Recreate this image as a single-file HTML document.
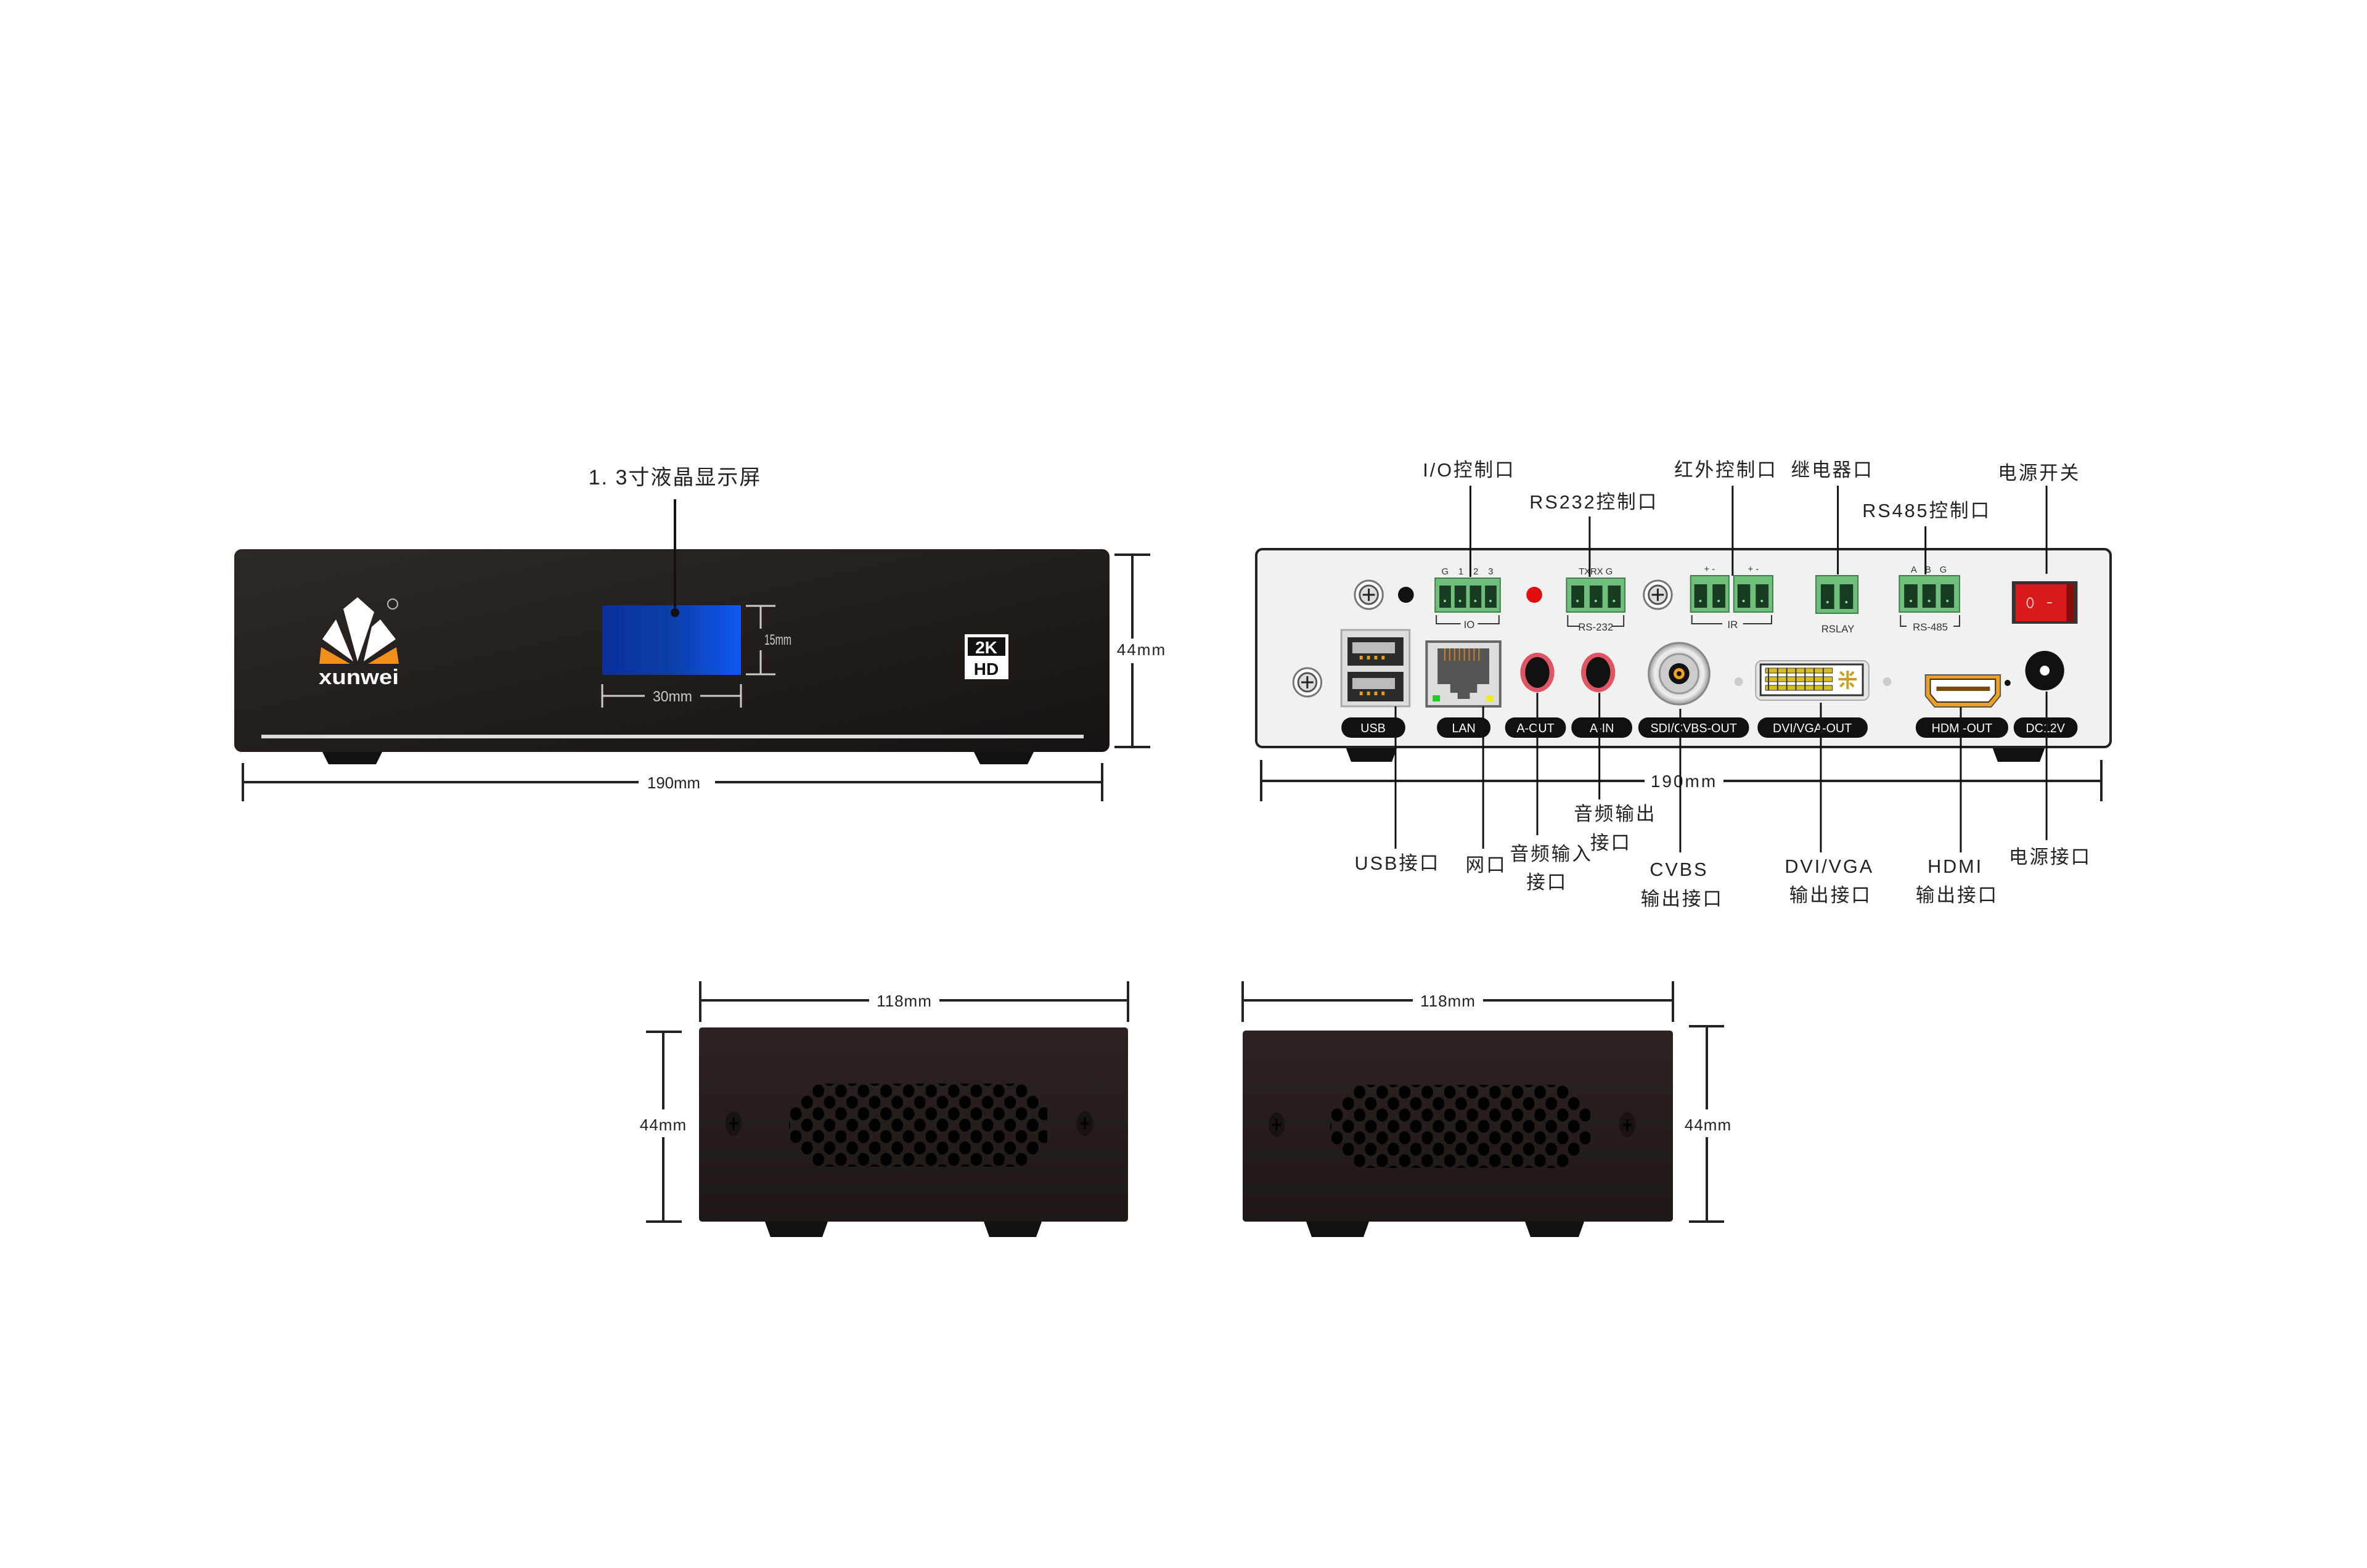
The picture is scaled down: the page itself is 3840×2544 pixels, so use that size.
<!DOCTYPE html>
<html><head><meta charset="utf-8">
<style>
html,body{margin:0;padding:0;background:#fff;}
svg{display:block;}
text{font-family:"Liberation Sans","Noto Sans CJK SC",sans-serif;}
</style></head>
<body>
<svg width="3840" height="2544" viewBox="0 0 3840 2544" xmlns="http://www.w3.org/2000/svg">
<defs>
<linearGradient id="fp" x1="0" y1="0" x2="1" y2="1">
<stop offset="0" stop-color="#2e2826"/><stop offset="0.6" stop-color="#211b19"/><stop offset="1" stop-color="#171211"/>
</linearGradient>
<linearGradient id="lcd" x1="0" y1="0" x2="1" y2="0">
<stop offset="0" stop-color="#0a2f9c"/><stop offset="0.5" stop-color="#0c3ea8"/><stop offset="1" stop-color="#1058f2"/>
</linearGradient>
<linearGradient id="sp" x1="0" y1="0" x2="0" y2="1">
<stop offset="0" stop-color="#2a2321"/><stop offset="1" stop-color="#1e1816"/>
</linearGradient>
<radialGradient id="bnc" cx="0.5" cy="0.5" r="0.5">
<stop offset="0" stop-color="#fff"/><stop offset="0.5" stop-color="#ccc"/><stop offset="0.8" stop-color="#eee"/><stop offset="1" stop-color="#999"/>
</radialGradient>
<pattern id="holes" x="1282" y="1751.5" width="36.6" height="37" patternUnits="userSpaceOnUse">
<ellipse cx="9" cy="18.5" rx="9.5" ry="10.5" fill="#000"/>
<ellipse cx="27.3" cy="0" rx="9.5" ry="10.5" fill="#000"/>
<ellipse cx="27.3" cy="37" rx="9.5" ry="10.5" fill="#000"/>
</pattern>
<pattern id="holes2" x="2160" y="1753.5" width="36.6" height="37" patternUnits="userSpaceOnUse">
<ellipse cx="9" cy="18.5" rx="9.5" ry="10.5" fill="#000"/>
<ellipse cx="27.3" cy="0" rx="9.5" ry="10.5" fill="#000"/>
<ellipse cx="27.3" cy="37" rx="9.5" ry="10.5" fill="#000"/>
</pattern>
</defs>

<!-- ============ FRONT PANEL ============ -->
<text x="1095" y="786" font-size="34" text-anchor="middle" fill="#222" letter-spacing="2">1. 3寸液晶显示屏</text>
<polygon points="523,1220 620,1220 610,1240 533,1240" fill="#111"/>
<polygon points="1580,1220 1677,1220 1667,1240 1590,1240" fill="#111"/>
<rect x="380" y="891" width="1420" height="329" rx="12" fill="url(#fp)"/>
<rect x="424" y="1192" width="1334" height="6" fill="#ddd"/>
<rect x="977" y="982" width="225" height="113" fill="url(#lcd)"/>
<line x1="1095" y1="810" x2="1095" y2="992" stroke="#111" stroke-width="4"/>
<circle cx="1095" cy="994" r="7" fill="#111"/>
<g stroke="#ccc" stroke-width="3">
<line x1="1210" y1="983" x2="1258" y2="983"/><line x1="1210" y1="1094" x2="1258" y2="1094"/>
<line x1="1234" y1="983" x2="1234" y2="1020"/><line x1="1234" y1="1055" x2="1234" y2="1094"/>
<line x1="977" y1="1110" x2="977" y2="1148"/><line x1="1202" y1="1110" x2="1202" y2="1148"/>
<line x1="977" y1="1129" x2="1046" y2="1129"/><line x1="1136" y1="1129" x2="1202" y2="1129"/>
</g>
<text x="1240" y="1046" font-size="24" fill="#ccc" textLength="44" lengthAdjust="spacingAndGlyphs">15mm</text>
<text x="1091" y="1138" font-size="24" fill="#ccc" text-anchor="middle" textLength="64" lengthAdjust="spacingAndGlyphs">30mm</text>
<polygon points="521,1050 518,1077 568,1077" fill="#f0901a"/>
<polygon points="643,1050 647,1077 597,1077" fill="#f0901a"/>
<polygon points="557,988 580,969 607,993 580,1073" fill="#fff"/>
<polygon points="523,1037 545,1005 573,1073" fill="#fff"/>
<polygon points="603,1017 617,1005 642,1037 590,1073" fill="#fff"/>
<circle cx="637" cy="980" r="8" fill="none" stroke="#bbb" stroke-width="2"/>
<text x="582" y="1110" font-size="34" font-weight="bold" fill="#fff" text-anchor="middle" textLength="130" lengthAdjust="spacingAndGlyphs">xunwei</text>
<rect x="1565" y="1029" width="71" height="73" fill="#fff"/>
<rect x="1570" y="1034" width="61" height="30" fill="#111"/>
<text x="1600" y="1060" font-size="28" font-weight="bold" fill="#fff" text-anchor="middle">2K</text>
<text x="1600" y="1095" font-size="28" font-weight="bold" fill="#111" text-anchor="middle">HD</text>
<g stroke="#222" stroke-width="4">
<line x1="1808" y1="900" x2="1866" y2="900"/><line x1="1808" y1="1212" x2="1866" y2="1212"/>
<line x1="1837" y1="900" x2="1837" y2="1036"/><line x1="1837" y1="1076" x2="1837" y2="1212"/>
<line x1="394" y1="1238" x2="394" y2="1300"/><line x1="1788" y1="1238" x2="1788" y2="1300"/>
<line x1="394" y1="1269" x2="1036" y2="1269"/><line x1="1160" y1="1269" x2="1788" y2="1269"/>
</g>
<text x="1852" y="1063" font-size="26" fill="#222" text-anchor="middle" letter-spacing="2">44mm</text>
<text x="1093" y="1279" font-size="26" fill="#222" text-anchor="middle" textLength="86" lengthAdjust="spacingAndGlyphs">190mm</text>

<!-- ============ BACK PANEL ============ -->
<polygon points="2183,1212 2267,1212 2258,1236 2192,1236" fill="#111"/>
<polygon points="3232,1212 3318,1212 3309,1236 3241,1236" fill="#111"/>
<rect x="2038" y="891" width="1386" height="321" rx="10" fill="#f1f1f1" stroke="#222" stroke-width="4"/>
<g stroke="#222" stroke-width="4">
<line x1="2046" y1="1233" x2="2046" y2="1300"/><line x1="3409" y1="1233" x2="3409" y2="1300"/>
<line x1="2046" y1="1267" x2="2668" y2="1267"/><line x1="2796" y1="1267" x2="3409" y2="1267"/>
</g>
<text x="2732" y="1277" font-size="28" fill="#222" text-anchor="middle" letter-spacing="3">190mm</text>

<g transform="translate(2038,0) scale(0.987,1) translate(-2038,0)">
<g font-size="31" fill="#222" text-anchor="middle" letter-spacing="3">
<text x="2388" y="773">I/O控制口</text>
<text x="2593" y="825">RS232控制口</text>
<text x="2810" y="773">红外控制口</text>
<text x="2985" y="773">继电器口</text>
<text x="3140" y="839">RS485控制口</text>
<text x="3325" y="778">电源开关</text>
</g>
<circle cx="2223" cy="965" r="23" fill="#fff" stroke="#777" stroke-width="3"/><circle cx="2223" cy="965" r="15" fill="#ddd" stroke="#555" stroke-width="3"/>
<path d="M2213 965h20M2223 955v20" stroke="#222" stroke-width="3"/>
<circle cx="2698" cy="965" r="23" fill="#fff" stroke="#777" stroke-width="3"/><circle cx="2698" cy="965" r="15" fill="#ddd" stroke="#555" stroke-width="3"/>
<path d="M2688 965h20M2698 955v20" stroke="#222" stroke-width="3"/>
<circle cx="2122" cy="1107" r="23" fill="#fff" stroke="#777" stroke-width="3"/><circle cx="2122" cy="1107" r="15" fill="#ddd" stroke="#555" stroke-width="3"/>
<path d="M2112 1107h20M2122 1097v20" stroke="#222" stroke-width="3"/>
<circle cx="2284" cy="965" r="13" fill="#111"/>
<circle cx="2495" cy="965" r="13" fill="#e01010"/>
<g fill="#6fbe7c" stroke="#3f7f4c" stroke-width="2">
<rect x="2332" y="938" width="107" height="55"/>
<rect x="2548" y="938" width="96" height="55"/>
<rect x="2752" y="934" width="63" height="59"/>
<rect x="2823" y="934" width="64" height="59"/>
<rect x="2958" y="934" width="69" height="61"/>
<rect x="3095" y="934" width="99" height="59"/>
</g>
<g fill="#173c22">
<rect x="2339" y="950" width="19" height="36"/><rect x="2364" y="950" width="19" height="36"/><rect x="2389" y="950" width="19" height="36"/><rect x="2414" y="950" width="19" height="36"/>
<rect x="2556" y="950" width="21" height="36"/><rect x="2586" y="950" width="21" height="36"/><rect x="2616" y="950" width="21" height="36"/>
<rect x="2758" y="948" width="21" height="38"/><rect x="2788" y="948" width="21" height="38"/>
<rect x="2829" y="948" width="21" height="38"/><rect x="2859" y="948" width="21" height="38"/>
<rect x="2966" y="948" width="22" height="40"/><rect x="2997" y="948" width="22" height="40"/>
<rect x="3103" y="948" width="22" height="38"/><rect x="3133" y="948" width="22" height="38"/><rect x="3163" y="948" width="22" height="38"/>
</g>
<g fill="#7fe0a0">
<circle cx="2348" cy="975" r="2"/><circle cx="2373" cy="975" r="2"/><circle cx="2398" cy="975" r="2"/><circle cx="2423" cy="975" r="2"/>
<circle cx="2566" cy="975" r="2"/><circle cx="2596" cy="975" r="2"/><circle cx="2626" cy="975" r="2"/>
<circle cx="2768" cy="975" r="2"/><circle cx="2798" cy="975" r="2"/><circle cx="2839" cy="975" r="2"/><circle cx="2869" cy="975" r="2"/>
<circle cx="2977" cy="977" r="2"/><circle cx="3008" cy="977" r="2"/>
<circle cx="3114" cy="975" r="2"/><circle cx="3144" cy="975" r="2"/><circle cx="3174" cy="975" r="2"/>
</g>
<g font-size="15" fill="#333" text-anchor="middle">
<text x="2388" y="932" letter-spacing="6">G 1 2 3</text>
<text x="2596" y="932">TXRX G</text>
<text x="2783" y="928">+ -</text><text x="2855" y="928">+ -</text>
<text x="3146" y="929" letter-spacing="5">A B G</text>
</g>
<g stroke="#333" stroke-width="2" fill="none">
<path d="M2334 998v14h40M2402 1012h35v-14"/>
<path d="M2550 998v18h20M2622 1016h20v-18"/>
<path d="M2754 998v14h50M2838 1012h47v-14"/>
<path d="M3097 998v18h10M3184 1016h10v-18"/>
</g>
<g font-size="17" fill="#333" text-anchor="middle">
<text x="2388" y="1019">IO</text>
<text x="2596" y="1023">RS-232</text>
<text x="2821" y="1019">IR</text>
<text x="2994" y="1026">RSLAY</text>
<text x="3146" y="1023">RS-485</text>
</g>
<rect x="3280" y="943" width="108" height="69" fill="#333"/>
<rect x="3286" y="948" width="84" height="60" fill="#d81a1a"/>
<rect x="3370" y="948" width="12" height="60" fill="#8a0d0d"/>
<ellipse cx="3310" cy="978" rx="5" ry="8" fill="none" stroke="#fbb" stroke-width="2"/>
<line x1="3338" y1="978" x2="3346" y2="978" stroke="#fbb" stroke-width="2"/>
<rect x="2178" y="1022" width="112" height="124" fill="#ddd" stroke="#aaa" stroke-width="3"/>
<rect x="2188" y="1034" width="92" height="46" fill="#2a2a2a"/>
<rect x="2188" y="1090" width="92" height="48" fill="#2a2a2a"/>
<rect x="2196" y="1042" width="70" height="18" fill="#bbb"/><rect x="2196" y="1100" width="70" height="18" fill="#bbb"/>
<g fill="#e0a020"><rect x="2208" y="1064" width="5" height="6"/><rect x="2220" y="1064" width="5" height="6"/><rect x="2232" y="1064" width="5" height="6"/><rect x="2244" y="1064" width="5" height="6"/>
<rect x="2208" y="1122" width="5" height="6"/><rect x="2220" y="1122" width="5" height="6"/><rect x="2232" y="1122" width="5" height="6"/><rect x="2244" y="1122" width="5" height="6"/></g>
<rect x="2318" y="1041" width="121" height="105" fill="#ddd" stroke="#666" stroke-width="4"/>
<path d="M2336 1052h85v58h-20v14h-12v10h-20v-10h-12v-14h-21z" fill="#555"/>
<g stroke="#d08020" stroke-width="2"><path d="M2348 1052v20M2356 1052v20M2364 1052v20M2372 1052v20M2380 1052v20M2388 1052v20M2396 1052v20M2404 1052v20"/></g>
<rect x="2328" y="1128" width="12" height="10" fill="#2c2"/><rect x="2416" y="1128" width="12" height="10" fill="#ee2"/>
<ellipse cx="2500" cy="1091" rx="28" ry="32" fill="#e05565"/><ellipse cx="2500" cy="1091" rx="20" ry="25" fill="#111"/>
<ellipse cx="2600" cy="1091" rx="28" ry="32" fill="#e05565"/><ellipse cx="2600" cy="1091" rx="20" ry="25" fill="#111"/>
<circle cx="2733" cy="1093" r="50" fill="url(#bnc)" stroke="#888" stroke-width="3"/>
<circle cx="2733" cy="1093" r="32" fill="#ccc" stroke="#999" stroke-width="3"/>
<circle cx="2733" cy="1093" r="17" fill="#111"/>
<circle cx="2733" cy="1093" r="9" fill="#f0a020"/><circle cx="2733" cy="1093" r="4" fill="#111"/>
<circle cx="2831" cy="1106" r="7" fill="#ccc"/><circle cx="3075" cy="1106" r="7" fill="#ccc"/>
<rect x="2859" y="1072" width="186" height="64" rx="10" fill="#e6e6e6" stroke="#aaa" stroke-width="2"/>
<rect x="2867" y="1078" width="168" height="50" fill="#fff" stroke="#333" stroke-width="3"/>
<g fill="#d8c020" stroke="#333" stroke-width="1">
<rect x="2875" y="1084" width="110" height="8"/><rect x="2875" y="1098" width="110" height="8"/><rect x="2875" y="1112" width="110" height="8"/>
</g>
<g stroke="#333" stroke-width="2"><path d="M2880 1084v36M2895 1084v36M2910 1084v36M2925 1084v36M2940 1084v36M2955 1084v36M2970 1084v36"/></g>
<path d="M2995 1102h30M3010 1088v30M2998 1090l6 6M3020 1090l-6 6M2998 1114l6-6M3020 1114l-6-6" stroke="#c8a020" stroke-width="4"/>
<path d="M3138 1095h123v34l-15 18h-93l-15-18z" fill="#f0a020" stroke="#555" stroke-width="2"/>
<path d="M3146 1102h107v24l-11 13h-85l-11-13z" fill="#fff" stroke="#333" stroke-width="2"/>
<rect x="3156" y="1114" width="88" height="7" fill="#7a4a10"/>
<circle cx="3273" cy="1108" r="5" fill="#111"/>
<circle cx="3334" cy="1088" r="32" fill="#111"/><circle cx="3334" cy="1088" r="8" fill="#fff"/>
<g fill="#111">
<rect x="2178" y="1164" width="105" height="33" rx="16"/>
<rect x="2335" y="1164" width="88" height="33" rx="16"/>
<rect x="2447" y="1164" width="100" height="33" rx="16"/>
<rect x="2556" y="1164" width="100" height="33" rx="16"/>
<rect x="2666" y="1164" width="182" height="33" rx="16"/>
<rect x="2862" y="1164" width="181" height="33" rx="16"/>
<rect x="3122" y="1164" width="152" height="33" rx="16"/>
<rect x="3283" y="1164" width="105" height="33" rx="16"/>
</g>
<g font-size="20" fill="#fff" text-anchor="middle">
<text x="2230" y="1188">USB</text>
<text x="2379" y="1188">LAN</text>
<text x="2497" y="1188">A-OUT</text>
<text x="2606" y="1188">A-IN</text>
<text x="2757" y="1188">SDI/CVBS-OUT</text>
<text x="2952" y="1188">DVI/VGA-OUT</text>
<text x="3198" y="1188">HDMI-OUT</text>
<text x="3335" y="1188">DC12V</text>
</g>
<g stroke="#111" stroke-width="3">
<line x1="2390" y1="788" x2="2390" y2="936"/>
<line x1="2586" y1="838" x2="2586" y2="936"/>
<line x1="2821" y1="788" x2="2821" y2="934"/>
<line x1="2994" y1="788" x2="2994" y2="932"/>
<line x1="3138" y1="854" x2="3138" y2="932"/>
<line x1="3337" y1="788" x2="3337" y2="931"/>
<line x1="2267" y1="1146" x2="2267" y2="1377"/>
<line x1="2411" y1="1146" x2="2411" y2="1377"/>
<line x1="2500" y1="1124" x2="2500" y2="1355"/>
<line x1="2602" y1="1124" x2="2602" y2="1297"/>
<line x1="2735" y1="1150" x2="2735" y2="1383"/>
<line x1="2966" y1="1140" x2="2966" y2="1383"/>
<line x1="3196" y1="1147" x2="3196" y2="1383"/>
<line x1="3337" y1="1122" x2="3337" y2="1363"/>
</g>
<g font-size="31" fill="#222" text-anchor="middle" letter-spacing="3">
<text x="2270" y="1411">USB接口</text>
<text x="2416" y="1414">网口</text>
<text x="2523" y="1396">音频输入</text>
<text x="2516" y="1442">接口</text>
<text x="2628" y="1331">音频输出</text>
<text x="2621" y="1378">接口</text>
<text x="2733" y="1421">CVBS</text>
<text x="2738" y="1469">输出接口</text>
<text x="2980" y="1416">DVI/VGA</text>
<text x="2982" y="1463">输出接口</text>
<text x="3187" y="1416">HDMI</text>
<text x="3190" y="1463">输出接口</text>
<text x="3343" y="1401">电源接口</text>
</g>
</g>

<!-- ============ SIDE PANELS ============ -->
<polygon points="1241,1982 1343,1982 1334,2007 1250,2007" fill="#111"/>
<polygon points="1596,1982 1690,1982 1681,2007 1605,2007" fill="#111"/>
<rect x="1134" y="1667" width="696" height="315" rx="5" fill="url(#sp)"/>
<polygon points="1324,1758 1659,1758 1699,1795 1699,1855 1659,1893 1324,1893 1280,1855 1280,1795" fill="url(#holes)"/>
<g fill="#181312"><ellipse cx="1190" cy="1823" rx="13" ry="20"/><ellipse cx="1760" cy="1823" rx="13" ry="20"/></g>
<g stroke="#000" stroke-width="3"><path d="M1183 1823h14M1190 1813v20M1753 1823h14M1760 1813v20"/></g>
<polygon points="2119,1982 2221,1982 2212,2007 2128,2007" fill="#111"/>
<polygon points="2474,1982 2570,1982 2561,2007 2483,2007" fill="#111"/>
<rect x="2016" y="1672" width="698" height="310" rx="5" fill="url(#sp)"/>
<polygon points="2202,1760 2540,1760 2580,1797 2580,1857 2540,1895 2202,1895 2158,1857 2158,1797" fill="url(#holes2)"/>
<g fill="#181312"><ellipse cx="2071" cy="1825" rx="13" ry="20"/><ellipse cx="2640" cy="1825" rx="13" ry="20"/></g>
<g stroke="#000" stroke-width="3"><path d="M2064 1825h14M2071 1815v20M2633 1825h14M2640 1815v20"/></g>
<g stroke="#222" stroke-width="4">
<line x1="1136" y1="1592" x2="1136" y2="1658"/><line x1="1830" y1="1592" x2="1830" y2="1658"/>
<line x1="1136" y1="1623" x2="1410" y2="1623"/><line x1="1524" y1="1623" x2="1830" y2="1623"/>
<line x1="2016" y1="1592" x2="2016" y2="1658"/><line x1="2714" y1="1592" x2="2714" y2="1658"/>
<line x1="2016" y1="1623" x2="2292" y2="1623"/><line x1="2406" y1="1623" x2="2714" y2="1623"/>
<line x1="1048" y1="1674" x2="1106" y2="1674"/><line x1="1048" y1="1982" x2="1106" y2="1982"/>
<line x1="1076" y1="1674" x2="1076" y2="1800"/><line x1="1076" y1="1845" x2="1076" y2="1982"/>
<line x1="2740" y1="1665" x2="2797" y2="1665"/><line x1="2740" y1="1982" x2="2797" y2="1982"/>
<line x1="2769" y1="1665" x2="2769" y2="1800"/><line x1="2769" y1="1845" x2="2769" y2="1982"/>
</g>
<g font-size="26" fill="#222" text-anchor="middle" letter-spacing="1">
<text x="1467" y="1633">118mm</text>
<text x="2349" y="1633">118mm</text>
<text x="1076" y="1834">44mm</text>
<text x="2771" y="1834">44mm</text>
</g>
</svg>
</body></html>
